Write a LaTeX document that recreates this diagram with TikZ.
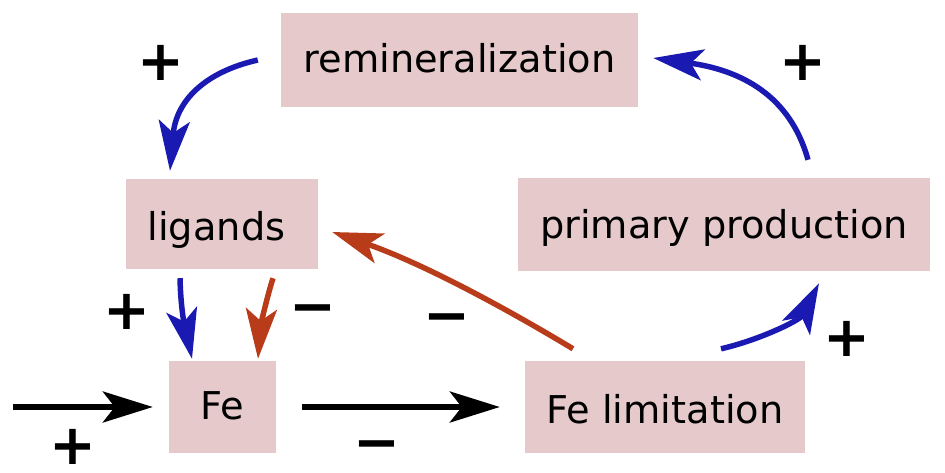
\documentclass[tikz,border=0pt]{standalone}
\usepackage{fontspec}
\setmainfont{DejaVu Sans}
\newfontfamily\signfont{DejaVu Sans Bold}
\usetikzlibrary{arrows.meta,calc}
\definecolor{boxfill}{HTML}{E6CACB}
\definecolor{posblue}{HTML}{1A1AB2}
\definecolor{negred}{HTML}{B83C1A}
\tikzset{
  fluxbox/.style={fill=boxfill, draw=none, inner sep=0pt, text depth=0pt, font=\fontsize{38.3}{44}\selectfont},
  linkarrow/.style={line width=5.5pt, -{Stealth[length=50pt,width=31pt,inset=12pt]}},
  posarrow/.style={linkarrow, draw=posblue},
  negarrow/.style={linkarrow, draw=negred},
  plainarrow/.style={linkarrow, draw=black},
  signlabel/.style={inner sep=0pt, font=\signfont\fontsize{56}{60}\selectfont}
}
\begin{document}
\begin{tikzpicture}[x=1pt,y=-1pt]
\useasboundingbox (0,0) rectangle (945,472);
\node[fluxbox, text height=24pt, minimum width=357pt, minimum height=94pt] (remin) at (459.5,60) {remineralization};
\node[fluxbox, text height=32pt, minimum width=192pt, minimum height=90pt] (lig) at (222,224) {ligands\hspace*{11pt}};
\node[fluxbox, text height=27pt, minimum width=412pt, minimum height=93pt] (pp) at (724,224.5) {primary production};
\node[fluxbox, text height=24pt, minimum width=107pt, minimum height=92pt] (fe) at (222.5,407) {Fe};
\node[fluxbox, text height=32pt, minimum width=280pt, minimum height=92pt] (fel) at (665,407) {Fe limitation};
\coordinate (src) at (13,407);

\draw[posarrow] ($(remin.west)+(-23,0)$) .. controls +(-53,12) and +(6,-70) .. ($(lig.north)+(-52,-8)$);
\draw[posarrow] ($(pp.north)+(84,-18)$) .. controls +(-18,-65) and +(87,12) .. ($(remin.east)+(15,-2)$);
\draw[posarrow] ($(lig.south)+(-42,9)$) .. controls +(1,42) and +(-4,-19) .. ($(fe.north)+(-30.5,-2)$);
\draw[negarrow] ($(lig.south)+(51,9)$) .. controls +(-7,22) and +(2,-29) .. ($(fe.north)+(35.5,-2)$);
\draw[negarrow] ($(fel.north)+(-92,-12)$) .. controls +(-73,-44) and +(87,30) .. ($(lig.east)+(14,8)$);
\draw[posarrow] ($(fel.north)+(56,-12)$) .. controls +(39,-9) and +(-19,37) .. ($(pp.south)+(95,12)$);
\draw[plainarrow] (src) -- ($(fe.west)+(-16,0)$);
\draw[plainarrow] ($(fe.east)+(26,0)$) -- ($(fel.west)+(-25,0)$);

\node[signlabel] (s1) at (161,63) {+};
\node[signlabel] (s2) at (803,63) {+};
\node[signlabel] (s3) at (127,312) {+};
\node[signlabel] (s4) at (313,308) {−\vphantom{+}};
\node[signlabel] (s5) at (447,317) {−\vphantom{+}};
\node[signlabel] (s6) at (847,339) {+};
\node[signlabel] (s7) at (73,447) {+};
\node[signlabel] (s8) at (377,444) {−\vphantom{+}};
\end{tikzpicture}
\end{document}
